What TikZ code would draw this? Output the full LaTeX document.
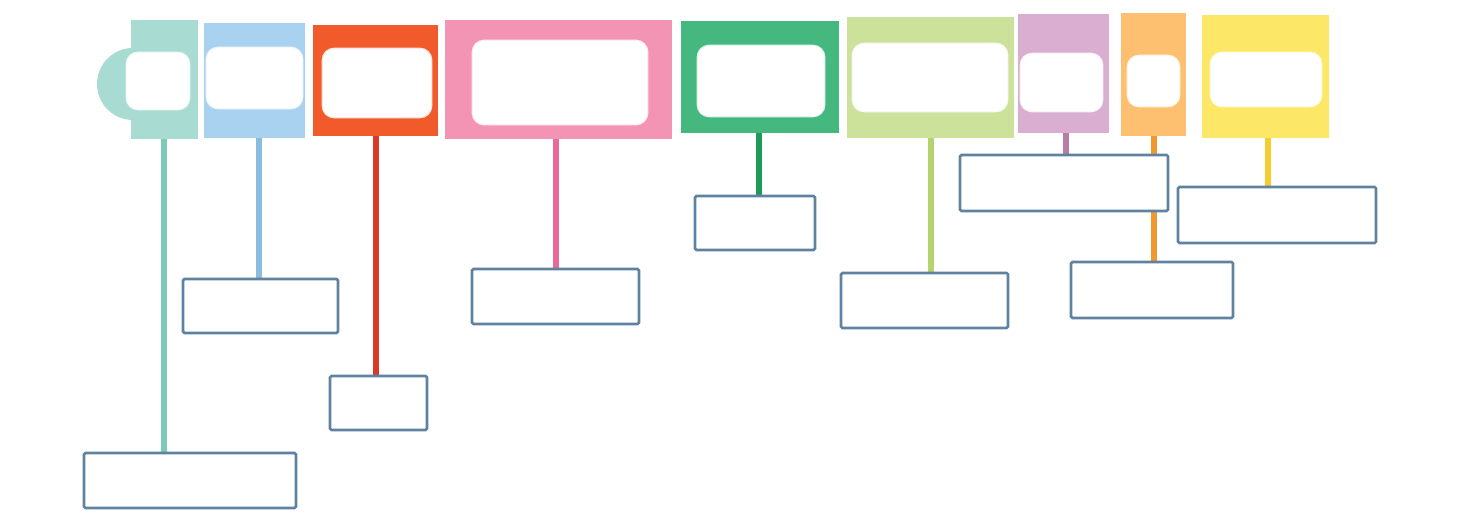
\documentclass[tikz,border=0pt]{standalone}
\usepackage{xcolor}
\usepackage{tikz}
\usetikzlibrary{backgrounds}
\definecolor{tealBg}{HTML}{A8DCD2}
\definecolor{tealS}{HTML}{7CCBB9}
\definecolor{blueBg}{HTML}{A8D2F0}
\definecolor{blueS}{HTML}{8BBCE0}
\definecolor{redBg}{HTML}{F15A2B}
\definecolor{redS}{HTML}{D83A28}
\definecolor{pinkBg}{HTML}{F394B5}
\definecolor{pinkS}{HTML}{E86A98}
\definecolor{greenBg}{HTML}{45B87F}
\definecolor{greenS}{HTML}{1E9A58}
\definecolor{limeBg}{HTML}{CCE19A}
\definecolor{limeS}{HTML}{B6D46E}
\definecolor{purpleBg}{HTML}{D9AED0}
\definecolor{purpleS}{HTML}{B57DA8}
\definecolor{orangeBg}{HTML}{FDBF70}
\definecolor{orangeS}{HTML}{F0992E}
\definecolor{yellowBg}{HTML}{FDE767}
\definecolor{yellowS}{HTML}{F6CD30}
\definecolor{edge}{HTML}{5E82A0}

\begin{document}
\begin{tikzpicture}[x=0.02cm,y=-0.02cm,font=\sffamily,
  size/.style 2 args={minimum width=#1*0.02cm,minimum height=#2*0.02cm},
  blk/.style={inner sep=0pt,outer sep=0pt},
  pad/.style={inner sep=0pt,fill=white,rounded corners=0.22cm,draw=white,draw opacity=0.85,line width=1.5pt},
  slot/.style={draw=edge,fill=white,line width=1.5pt,rounded corners=0.8pt,inner sep=0pt},
  stem/.style={line width=3.2pt}]
  \useasboundingbox (0,0) rectangle (1462,526);

  \fill[tealBg] (133,84) circle (36);

  \node[blk,size={67}{119},fill=tealBg] (teal) at (164.5,79.5) {};
  \node[blk,size={101}{115},fill=blueBg] (blue) at (254.5,80.5) {};
  \node[blk,size={125}{111},fill=redBg] (red) at (375.5,80.5) {};
  \node[blk,size={227}{119},fill=pinkBg] (pink) at (558.5,79.5) {};
  \node[blk,size={158}{112},fill=greenBg] (green) at (760,77) {};
  \node[blk,size={167}{121},fill=limeBg] (lime) at (930.5,77.5) {};
  \node[blk,size={91}{119},fill=purpleBg] (purple) at (1063.5,73.5) {};
  \node[blk,size={65}{123},fill=orangeBg] (orange) at (1153.5,74.5) {};
  \node[blk,size={127}{123},fill=yellowBg] (yellow) at (1265.5,76.5) {};

  \node[pad,size={62}{56}] (tealpad) at (158,81) {};
  \node[pad,size={95}{60}] (bluepad) at (254.5,78) {};
  \node[pad,size={108}{68}] (redpad) at (377,83) {};
  \node[pad,size={174}{83}] (pinkpad) at (560,82.5) {};
  \node[pad,size={126}{70}] (greenpad) at (761,81) {};
  \node[pad,size={154}{67}] (limepad) at (930,77.5) {};
  \node[pad,size={81}{57}] (purplepad) at (1061.5,82.5) {};
  \node[pad,size={51}{50}] (orangepad) at (1153.5,81) {};
  \node[pad,size={110}{53}] (yellowpad) at (1266,79.5) {};

  \node[slot,size={212}{55}] (tealbox) at (190,480.5) {};
  \node[slot,size={155}{54}] (bluebox) at (260.5,306) {};
  \node[slot,size={97}{54}] (redbox) at (378.5,403) {};
  \node[slot,size={167}{55}] (pinkbox) at (555.5,296.5) {};
  \node[slot,size={120}{54}] (greenbox) at (755,223) {};
  \node[slot,size={167}{55}] (limebox) at (924.5,300.5) {};
  \node[slot,size={208}{56}] (purplebox) at (1064,183) {};
  \node[slot,size={162}{56}] (orangebox) at (1152,290) {};
  \node[slot,size={198}{56}] (yellowbox) at (1277,215) {};

  \begin{scope}[on background layer]
    \foreach \n/\dx in {teal/-0.5,blue/4.5,red/0.5,pink/-2.5,green/-1,lime/0.5,purple/2.5,orange/0.5,yellow/2.5}
      \draw[stem,\n S] ([xshift=\dx*0.02cm]\n.south) -- ([xshift=\dx*0.02cm]\n.south |- \n box.north);
  \end{scope}
\end{tikzpicture}
\end{document}
